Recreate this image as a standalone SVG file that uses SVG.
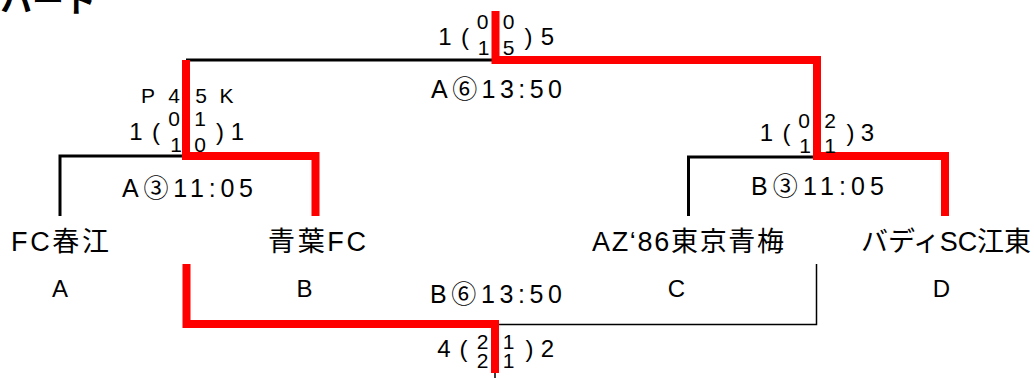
<svg xmlns="http://www.w3.org/2000/svg" width="1034" height="378" viewBox="0 0 1034 378">
<style>
text{font-family:"Liberation Sans","Noto Sans CJK JP",sans-serif;fill:#000}
.head{font-family:"Noto Sans CJK JP",sans-serif;font-size:32px;font-weight:700}
.team{font-size:27px}
.let{font-size:24px;text-anchor:middle}
.time{font-size:25px}
.sc{font-size:24px;text-anchor:middle}
.st{font-size:21px;text-anchor:middle}
.blk{fill:none;stroke:#000;stroke-width:3;stroke-linejoin:miter}
.thin{fill:none;stroke:#000;stroke-width:1.5}
.win{fill:none;stroke:#ff0000;stroke-width:8;stroke-linejoin:miter;stroke-linecap:square}
</style>
<rect width="1034" height="378" fill="#fff"/>
<text class="head" x="0" y="12">ハート</text>

<g id="connectors">
  <path class="blk" d="M60,216 V156 H186"/>
  <path class="blk" d="M186,60 H495"/>
  <path class="blk" d="M688.5,216 V157 H817"/>
  <path class="thin" d="M495,324.5 H816.5 V264"/>
  <path class="thin" d="M495,372 V378"/>
  <path class="win" d="M186,64 V156 H315.5 V212"/>
  <path class="win" d="M495.5,15 V60 H817 V156 H945 V212"/>
  <path class="win" d="M186.5,268 V324 H495 V369"/>
</g>

<g id="team-A">
  <text class="team" x="11" y="251" textLength="98" lengthAdjust="spacing">FC春江</text>
  <text class="let" x="60" y="297">A</text>
</g>
<g id="team-B">
  <text class="team" x="268" y="251" textLength="98" lengthAdjust="spacing">青葉FC</text>
  <text class="let" x="304.5" y="297">B</text>
</g>
<g id="team-C">
  <text class="team" x="592" y="251" textLength="192" lengthAdjust="spacing">AZ‘86東京青梅</text>
  <text class="let" x="676.5" y="297">C</text>
</g>
<g id="team-D">
  <text class="team" x="861" y="251" textLength="170" lengthAdjust="spacing">バディSC江東</text>
  <text class="let" x="941.5" y="297">D</text>
</g>

<g id="match-A3">
  <text class="time" x="122" y="197" textLength="131" lengthAdjust="spacing">A③11:05</text>
  <text class="st" y="103"><tspan x="148">P</tspan><tspan x="174">4</tspan><tspan x="201">5</tspan><tspan x="226.5">K</tspan></text>
  <text class="sc" y="140"><tspan x="136">1</tspan><tspan x="156">(</tspan><tspan x="220">)</tspan><tspan x="237.5">1</tspan></text>
  <text class="st" y="126"><tspan x="174">0</tspan><tspan x="200">1</tspan></text>
  <text class="st" y="152"><tspan x="176">1</tspan><tspan x="200">0</tspan></text>
</g>

<g id="match-B3">
  <text class="time" x="751" y="195" textLength="133" lengthAdjust="spacing">B③11:05</text>
  <text class="sc" y="141"><tspan x="766.5">1</tspan><tspan x="786.5">(</tspan><tspan x="850.5">)</tspan><tspan x="867.5">3</tspan></text>
  <text class="st" y="128"><tspan x="804">0</tspan><tspan x="830">2</tspan></text>
  <text class="st" y="153"><tspan x="805">1</tspan><tspan x="830">1</tspan></text>
</g>

<g id="match-A6">
  <text class="time" x="431" y="98" textLength="131" lengthAdjust="spacing">A⑥13:50</text>
  <text class="sc" y="45"><tspan x="445">1</tspan><tspan x="465">(</tspan><tspan x="528.5">)</tspan><tspan x="547.5">5</tspan></text>
  <text class="st" y="29"><tspan x="482.5">0</tspan><tspan x="508.5">0</tspan></text>
  <text class="st" y="55"><tspan x="483.5">1</tspan><tspan x="508.5">5</tspan></text>
</g>

<g id="match-B6">
  <text class="time" x="430" y="303" textLength="132" lengthAdjust="spacing">B⑥13:50</text>
  <text class="sc" y="357"><tspan x="444">4</tspan><tspan x="463.5">(</tspan><tspan x="529.5">)</tspan><tspan x="547.5">2</tspan></text>
  <text class="st" y="349"><tspan x="482.5">2</tspan><tspan x="508.5">1</tspan></text>
  <text class="st" y="368"><tspan x="482.5">2</tspan><tspan x="508.5">1</tspan></text>
</g>
</svg>
